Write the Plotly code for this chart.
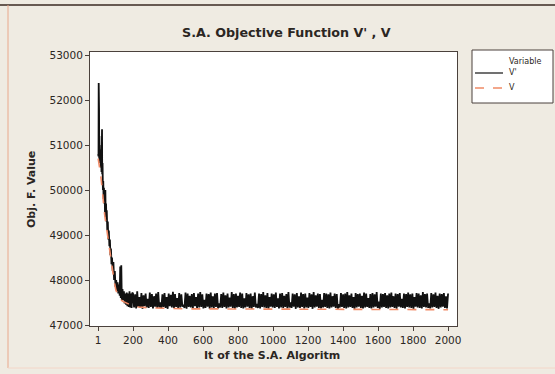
import plotly.graph_objects as go

# ---------------- data ----------------
early_it = [1, 2, 3, 4, 5, 6, 7, 8, 9, 10, 12, 14, 16, 18, 20, 22, 23, 24,
            26, 28, 30, 32, 34, 36, 38, 40, 42, 44, 46, 48, 50,
            53, 56, 59, 62, 65, 68, 71, 74, 77, 80,
            84, 88, 92, 96, 100, 104, 108, 112, 116, 120, 124,
            127, 130, 133,
            136, 140, 144, 148, 152, 156, 160, 164, 168, 172, 176, 180, 184, 188, 192, 196]
early_vp = [50800, 51900, 50750, 52380, 50900, 51800, 50700, 51200, 50650, 51000,
            50600, 50900, 50500, 50800, 50400, 50700, 51350, 50350,
            50600, 50000, 50200, 49800, 50050, 49700, 49950, 49500, 50000, 49400, 49700, 49300, 49550,
            49100, 49300, 48900, 49100, 48750, 48900, 48550, 48700, 48350, 48500,
            48200, 48400, 48000, 48200, 47850, 48000, 47750, 47950, 47700, 47900, 47650,
            48300, 47600, 48330,
            47550, 47800, 47560, 47750, 47480, 47700, 47450, 47720, 47420, 47700, 47400, 47750, 47390, 47700, 47380, 47720]

tail_it = list(range(200, 2001, 6))
tail_vp = [
    47700, 47390, 47680, 47370, 47750, 47400, 47620, 47380, 47710, 47360, 47660, 47420, 47700, 47390, 47580, 47380, 47720, 47400, 47690, 47370,
    47640, 47410, 47700, 47380, 47730, 47390, 47500, 47370, 47680, 47400, 47710, 47380, 47620, 47360, 47700, 47420, 47670, 47390, 47740, 47380,
    47690, 47400, 47600, 47370, 47710, 47390, 47680, 47410, 47450, 47380, 47720, 47360, 47700, 47400, 47650, 47390, 47690, 47370, 47710, 47420,
    47620, 47380, 47700, 47390, 47730, 47400, 47680, 47370, 47560, 47380, 47700, 47410, 47690, 47360, 47720, 47390, 47640, 47380, 47700, 47400,
    47710, 47370, 47480, 47390, 47690, 47380, 47720, 47400, 47660, 47370, 47700, 47390, 47610, 47410, 47730, 47380, 47690, 47360, 47700, 47390,
    47650, 47400, 47720, 47380, 47700, 47370, 47590, 47390, 47710, 47410, 47680, 47380, 47700, 47360, 47640, 47400, 47720, 47390, 47470, 47380,
    47700, 47370, 47690, 47400, 47730, 47390, 47660, 47380, 47710, 47360, 47620, 47410, 47700, 47390, 47680, 47380, 47720, 47400, 47590, 47370,
    47700, 47390, 47710, 47380, 47650, 47400, 47690, 47370, 47730, 47390, 47500, 47380, 47700, 47410, 47680, 47360, 47710, 47390, 47640, 47380,
    47720, 47400, 47690, 47370, 47700, 47390, 47610, 47380, 47710, 47400, 47680, 47360, 47730, 47390, 47660, 47410, 47700, 47380, 47690, 47370,
    47560, 47390, 47710, 47400, 47700, 47380, 47680, 47370, 47720, 47390, 47640, 47410, 47700, 47380, 47690, 47360, 47460, 47390, 47710, 47400,
    47680, 47380, 47700, 47370, 47730, 47390, 47660, 47400, 47700, 47380, 47620, 47360, 47710, 47390, 47690, 47410, 47700, 47380, 47650, 47370,
    47720, 47390, 47700, 47400, 47600, 47380, 47690, 47370, 47710, 47390, 47680, 47410, 47730, 47380, 47520, 47360, 47700, 47390, 47690, 47400,
    47710, 47380, 47660, 47370, 47700, 47390, 47720, 47400, 47640, 47380, 47700, 47360, 47690, 47410, 47710, 47390, 47580, 47380, 47700, 47370,
    47690, 47400, 47720, 47390, 47680, 47380, 47700, 47360, 47620, 47410, 47710, 47390, 47700, 47380, 47660, 47370, 47730, 47400, 47690, 47390,
    47700, 47380, 47480, 47370, 47710, 47390, 47680, 47400, 47720, 47380, 47650, 47360, 47700, 47390, 47690, 47410, 47710, 47380, 47640, 47370,
    47700,
]

v_it = [1, 8, 15, 22, 29, 38, 48, 56, 64, 73, 83, 92, 102, 112, 121, 140, 159, 190, 233, 300, 500, 1000, 1500, 2000]
v_val = [50700, 50550, 50350, 50100, 49780, 49450, 49180, 48950, 48730, 48480, 48220, 47980,
         47780, 47680, 47600, 47530, 47490, 47440, 47400, 47380, 47360, 47350, 47345, 47340]

x_ticks = [1, 200, 400, 600, 800, 1000, 1200, 1400, 1600, 1800, 2000]
y_ticks = [47000, 48000, 49000, 50000, 51000, 52000, 53000]

title_text = "S.A. Objective Function V' , V"
x_title = "It of the S.A. Algoritm"
y_title = "Obj. F. Value"
legend_title = "Variable"
names = ["V'", "V"]

# ---------------- figure ----------------
W, H = 555, 374
L, R, T, B = 90, 457, 52, 326   # plot area in pixels
BG = "#EFEBE2"


def px(x):
    return (x - L) / (R - L)


def py(y):
    return (B - y) / (B - T)


FONT = "DejaVu Sans"
TXT = "#2b2622"
AX = "#4a413c"
C_VP = "#111111"
C_V = "#F08A66"

fig = go.Figure()
fig.add_trace(go.Scatter(x=early_it + tail_it, y=early_vp + tail_vp, mode="lines",
                         name=names[0], showlegend=False, line=dict(color=C_VP, width=1.8)))
fig.add_trace(go.Scatter(x=v_it, y=v_val, mode="lines", name=names[1], showlegend=False,
                         line=dict(color=C_V, width=1.6, dash="dash")))

fig.update_layout(
    width=W, height=H,
    margin=dict(l=L, r=W - R, t=T, b=H - B, pad=0),
    paper_bgcolor=BG,
    plot_bgcolor="white",
    showlegend=False,
    font=dict(family=FONT, color=TXT),
)

fig.update_xaxes(range=[-45.7, 2051], tickvals=x_ticks, ticktext=[str(v) for v in x_ticks],
                 showgrid=False, zeroline=False, showline=True, mirror=True,
                 linecolor=AX, linewidth=1, ticks="outside", ticklen=4, tickcolor=AX,
                 tickfont=dict(family=FONT, size=10.5, color=TXT))
fig.update_yaxes(range=[46978, 53067], tickvals=y_ticks, ticktext=[str(v) for v in y_ticks],
                 showgrid=False, zeroline=False, showline=True, mirror=True,
                 linecolor=AX, linewidth=1, ticks="outside", ticklen=4, tickcolor=AX,
                 tickfont=dict(family=FONT, size=10.5, color=TXT))

# text
fig.add_annotation(text="<b>" + title_text + "</b>", x=px(286), y=py(32), xref="paper", yref="paper",
                   showarrow=False, font=dict(family=FONT, size=12.7, color=TXT),
                   xanchor="center", yanchor="middle")
fig.add_annotation(text="<b>" + x_title + "</b>", x=px(272), y=py(355), xref="paper", yref="paper",
                   showarrow=False, font=dict(family=FONT, size=11, color=TXT),
                   xanchor="center", yanchor="middle")
fig.add_annotation(text="<b>" + y_title + "</b>", x=px(32), y=py(190), xref="paper", yref="paper",
                   showarrow=False, textangle=-90, font=dict(family=FONT, size=11, color=TXT),
                   xanchor="center", yanchor="middle")

# legend (box, title, keys, labels)
fig.add_shape(type="rect", xref="paper", yref="paper",
              x0=px(472), x1=px(553), y0=py(103), y1=py(50),
              fillcolor="white", line=dict(color=AX, width=1), layer="below")
fig.add_annotation(text=legend_title, x=px(525), y=py(61), xref="paper", yref="paper",
                   showarrow=False, font=dict(family=FONT, size=8, color=TXT),
                   xanchor="center", yanchor="middle")
for i, (nm, col, dash, lw) in enumerate([(names[0], C_VP, "solid", 1.2), (names[1], C_V, "dash", 1.6)]):
    yk = 73 + 15 * i
    fig.add_shape(type="line", xref="paper", yref="paper",
                  x0=px(475), x1=px(503), y0=py(yk), y1=py(yk),
                  line=dict(color=col, width=lw, dash=dash))
    fig.add_annotation(text=nm, x=px(507), y=py(yk), xref="paper", yref="paper",
                       showarrow=False, font=dict(family=FONT, size=8, color=TXT),
                       xanchor="left", yanchor="middle")

# outer frame
fig.add_shape(type="line", xref="paper", yref="paper",
              x0=px(0), x1=px(555), y0=py(5), y1=py(5),
              line=dict(color="#3a2a22", width=1.5))
fig.add_shape(type="line", xref="paper", yref="paper",
              x0=px(8), x1=px(8), y0=py(5), y1=py(368),
              line=dict(color="#E9A88C", width=1))
fig.add_shape(type="line", xref="paper", yref="paper",
              x0=px(8), x1=px(555), y0=py(368), y1=py(368),
              line=dict(color="#F3D6C8", width=1))

fig.write_html("out.html", config={"displayModeBar": False},
               post_script="document.body.style.margin='0';document.body.style.background='%s';" % BG)
